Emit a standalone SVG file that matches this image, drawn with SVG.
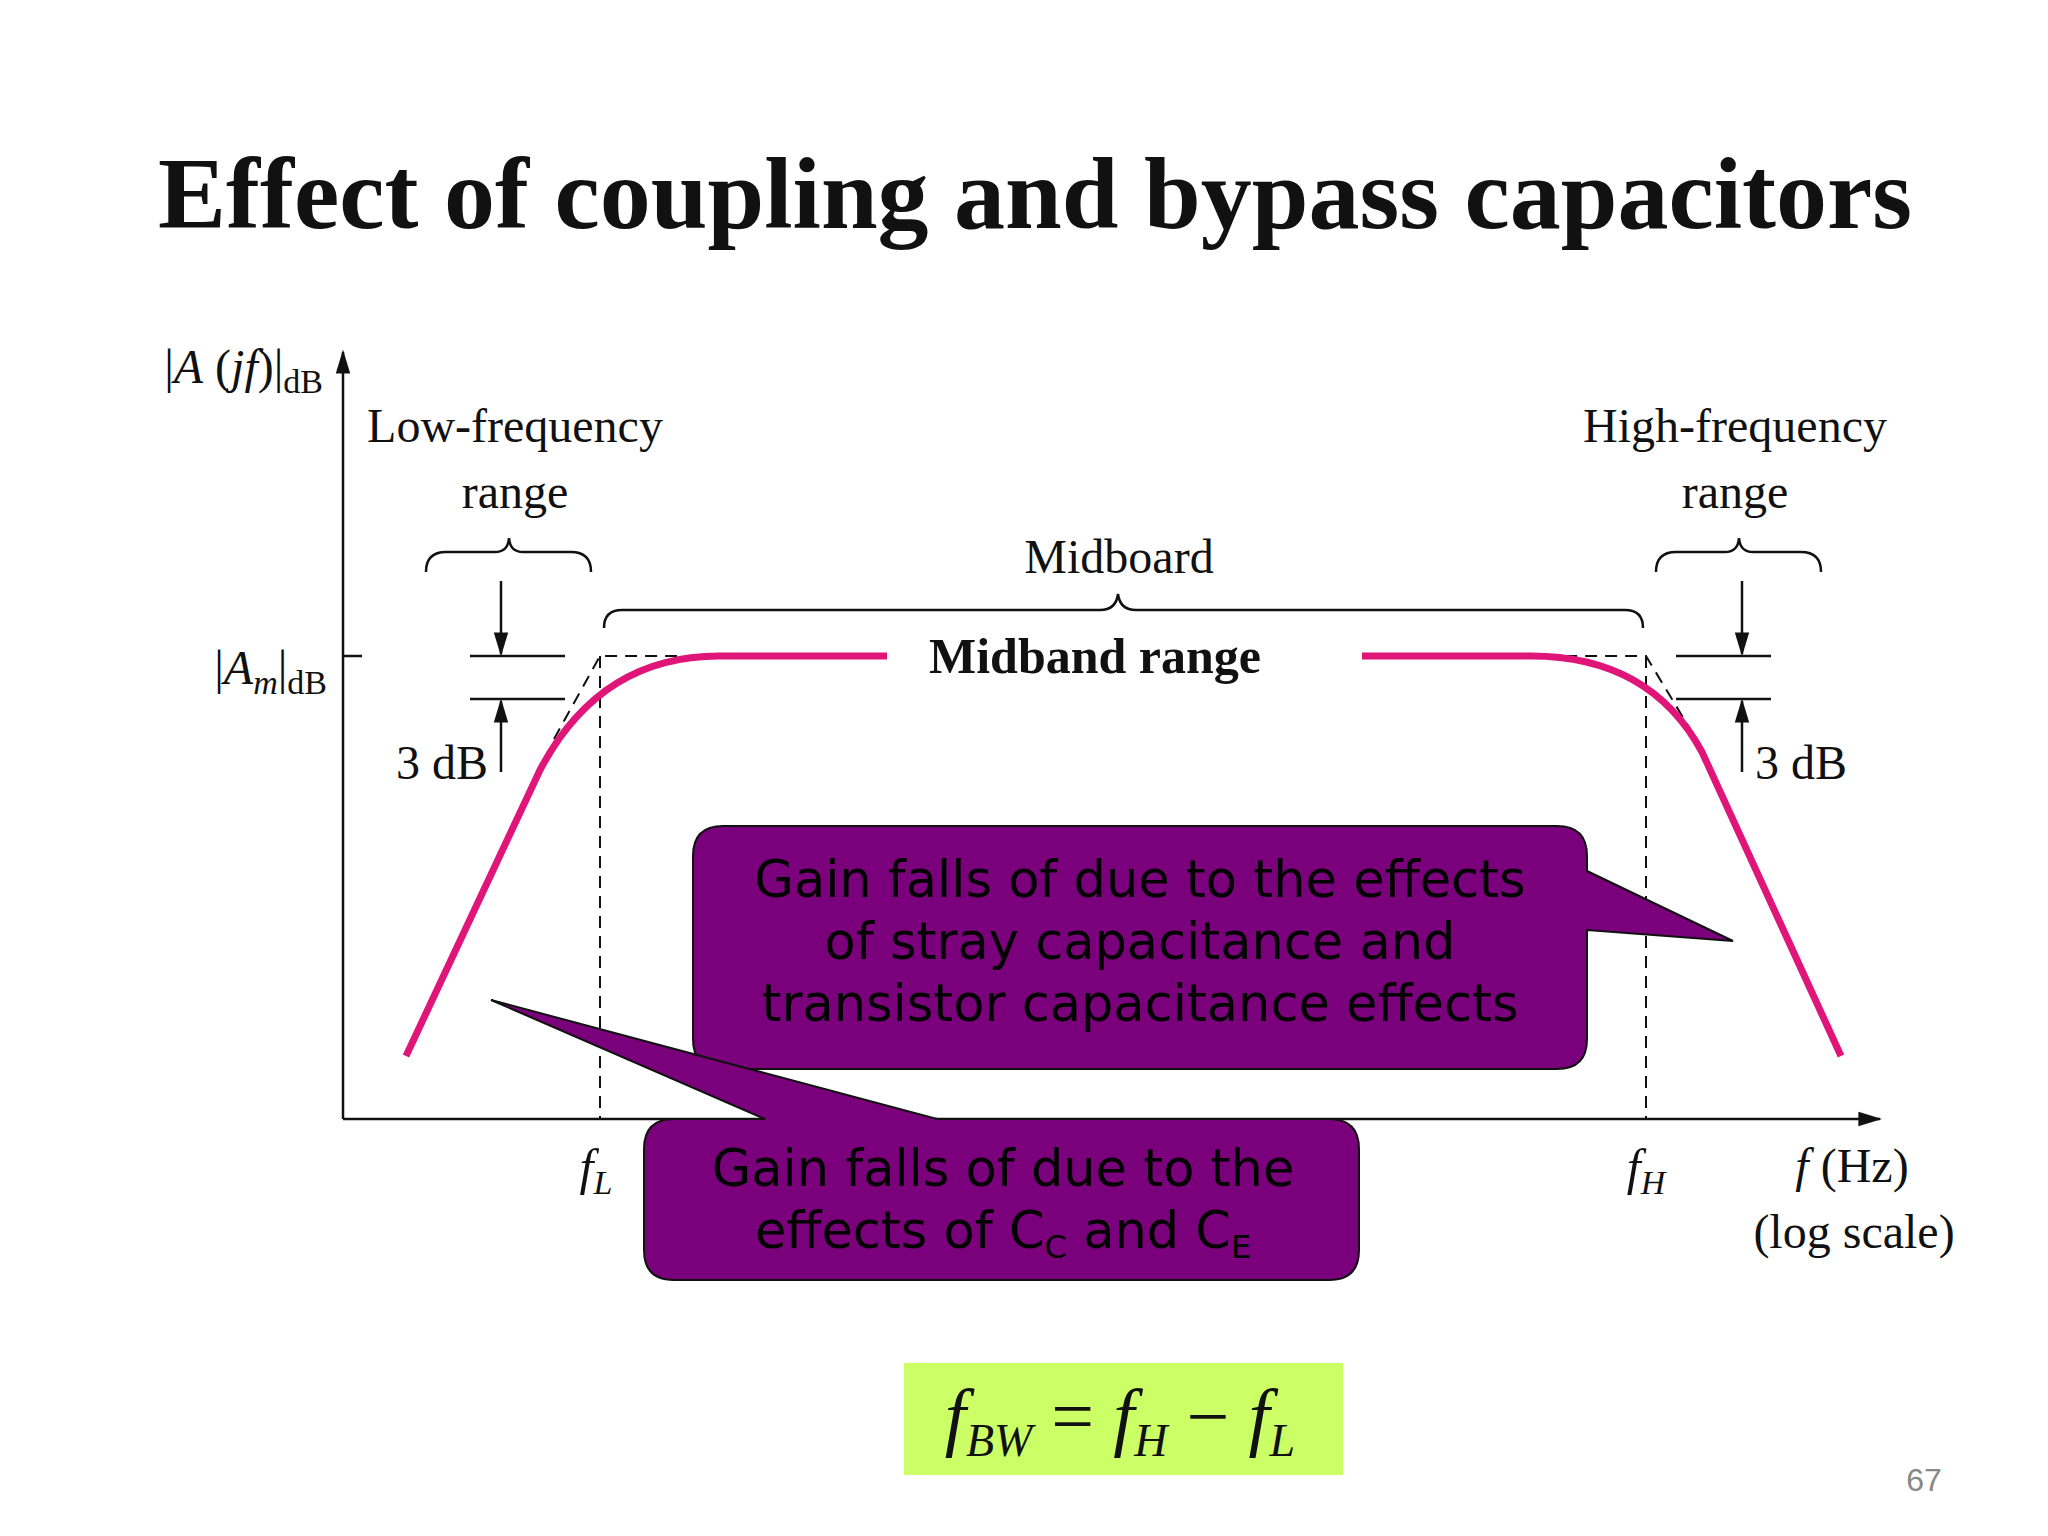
<svg xmlns="http://www.w3.org/2000/svg" width="2048" height="1536" viewBox="0 0 2048 1536">
<style>
.s{font-family:"Liberation Serif",serif;fill:#111}
.c{font-family:"DejaVu Sans","Open Sans",sans-serif;fill:#000;font-size:51px;text-anchor:middle}
.ln{stroke:#111;stroke-width:2.5;fill:none}
.d{stroke:#111;stroke-width:2;fill:none;stroke-dasharray:12 8}
.box{fill:#7b007b;stroke:#111;stroke-width:2}
</style>
<defs>
<marker id="b" viewBox="0 0 10 10" refX="9" refY="5" markerWidth="24" markerHeight="24" orient="auto" markerUnits="userSpaceOnUse"><path d="M0,2L10,5L0,8z" fill="#111"/></marker>
</defs>
<rect width="2048" height="1536" fill="#fff"/>
<text x="1035" y="228" class="s" font-size="102" font-weight="bold" text-anchor="middle">Effect of coupling and bypass capacitors</text>
<g id="connectors">
<line class="ln" x1="343" y1="1119" x2="343" y2="352" marker-end="url(#b)"/>
<line class="ln" x1="343" y1="1119" x2="1880" y2="1119" marker-end="url(#b)"/>
<line class="ln" x1="343" y1="656" x2="362" y2="656"/>
<path class="d" d="M554,739L600,656L1646,656L1696,739"/>
<line class="d" x1="600" y1="656" x2="600" y2="1119"/>
<line class="d" x1="1646" y1="656" x2="1646" y2="1119"/>
<line class="ln" x1="470" y1="656" x2="565" y2="656"/>
<line class="ln" x1="470" y1="699" x2="565" y2="699"/>
<line class="ln" x1="501" y1="581" x2="501" y2="654" marker-end="url(#b)"/>
<line class="ln" x1="501" y1="772" x2="501" y2="701" marker-end="url(#b)"/>
<line class="ln" x1="1676" y1="656" x2="1771" y2="656"/>
<line class="ln" x1="1676" y1="699" x2="1771" y2="699"/>
<line class="ln" x1="1742" y1="581" x2="1742" y2="654" marker-end="url(#b)"/>
<line class="ln" x1="1742" y1="772" x2="1742" y2="701" marker-end="url(#b)"/>
<path class="ln" d="M426,572Q426,552 446,552L495,552Q508,552 509,538Q510,552 523,552L571,552Q591,552 591,572"/>
<path class="ln" d="M1656,572Q1656,552 1676,552L1725,552Q1738,552 1739,538Q1740,552 1753,552L1801,552Q1821,552 1821,572"/>
<path class="ln" d="M604,628Q604,610 622,610L1100,610Q1116,610 1118,594Q1120,610 1136,610L1625,610Q1643,610 1643,628"/>
<path d="M406,1056L540,770Q600,656 719,656L887,656M1362,656L1531,656Q1650,656 1702,752L1841,1056" fill="none" stroke="#e0157a" stroke-width="7"/>
<rect x="887" y="630" width="475" height="56" fill="#fff"/>
</g>
<g id="labels">
<text x="323" y="383" class="s" font-size="48" text-anchor="end"><tspan>|</tspan><tspan font-style="italic">A</tspan><tspan> (</tspan><tspan font-style="italic">jf</tspan><tspan>)|</tspan><tspan font-size="34" dy="10">dB</tspan></text>
<text x="327" y="684" class="s" font-size="48" text-anchor="end"><tspan>|</tspan><tspan font-style="italic">A</tspan><tspan font-style="italic" font-size="34" dy="10">m</tspan><tspan dy="-10">|</tspan><tspan font-size="34" dy="10">dB</tspan></text>
<text x="515" y="442" class="s" font-size="48" text-anchor="middle">Low-frequency</text>
<text x="515" y="508" class="s" font-size="48" text-anchor="middle">range</text>
<text x="1735" y="442" class="s" font-size="48" text-anchor="middle">High-frequency</text>
<text x="1735" y="508" class="s" font-size="48" text-anchor="middle">range</text>
<text x="1119" y="573" class="s" font-size="48" text-anchor="middle">Midboard</text>
<text x="1095" y="673" class="s" font-size="50" font-weight="bold" text-anchor="middle">Midband range</text>
<text x="442" y="779" class="s" font-size="48" text-anchor="middle">3 dB</text>
<text x="1801" y="779" class="s" font-size="48" text-anchor="middle">3 dB</text>
<text x="596" y="1184" class="s" font-size="50" text-anchor="middle" font-style="italic">f<tspan font-size="34" dy="10">L</tspan></text>
<text x="1646" y="1184" class="s" font-size="50" text-anchor="middle" font-style="italic">f<tspan font-size="34" dy="10">H</tspan></text>
<text x="1852" y="1182" class="s" font-size="48" text-anchor="middle"><tspan font-style="italic">f</tspan> (Hz)</text>
<text x="1854" y="1248" class="s" font-size="48" text-anchor="middle">(log scale)</text>
</g>
<g id="callout1">
<path class="box" d="M723,826L1557,826Q1587,826 1587,856L1587,871L1733,941L1587,930L1587,1039Q1587,1069 1557,1069L723,1069Q693,1069 693,1039L693,856Q693,826 723,826z"/>
<text class="c" x="1140" y="897">Gain falls of due to the effects</text>
<text class="c" x="1140" y="959">of stray capacitance and</text>
<text class="c" x="1140" y="1021">transistor capacitance effects</text>
</g>
<g id="callout2">
<path class="box" d="M674,1119L765,1119L491,1000L937,1119L1329,1119Q1359,1119 1359,1149L1359,1250Q1359,1280 1329,1280L674,1280Q644,1280 644,1250L644,1149Q644,1119 674,1119z"/>
<text class="c" x="1003" y="1186">Gain falls of due to the</text>
<text class="c" x="1003" y="1248">effects of C<tspan font-size="32" dy="10">C</tspan><tspan dy="-10"> and C</tspan><tspan font-size="32" dy="10">E</tspan></text>
</g>
<g id="formula">
<rect x="904" y="1363" width="439" height="112" fill="#ccff66"/>
<text x="1120" y="1442" class="s" font-size="76" text-anchor="middle" font-style="italic">f<tspan font-size="46" dy="14">BW</tspan><tspan dy="-14" font-style="normal"> = </tspan>f<tspan font-size="46" dy="14">H</tspan><tspan dy="-14" font-style="normal"> − </tspan>f<tspan font-size="46" dy="14">L</tspan></text>
</g>
<text x="1924" y="1491" font-family="Liberation Sans,sans-serif" font-size="32" fill="#888" text-anchor="middle">67</text>
</svg>
